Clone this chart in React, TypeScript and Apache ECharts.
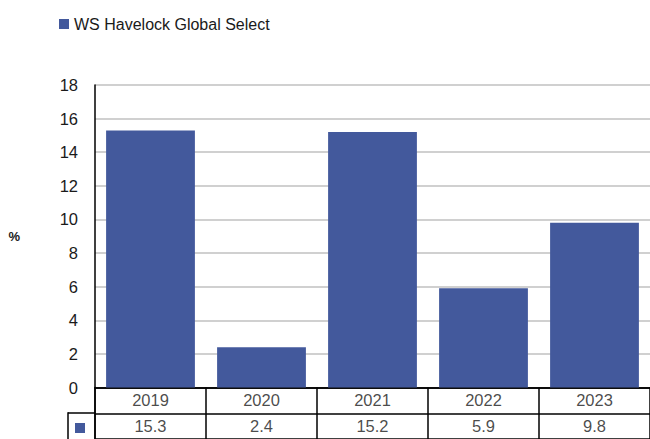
import React, { useEffect, useRef } from 'react';
import * as echarts from 'echarts';

const categories = ['2019', '2020', '2021', '2022', '2023'];
const values = [15.3, 2.4, 15.2, 5.9, 9.8];
const seriesName = 'WS Havelock Global Select';
const yMin = 0;
const yMax = 18;
const yInterval = 2;
const tableRows = ['years', 'values'];

export default function App() {
  const ref = useRef<HTMLDivElement>(null);
  useEffect(() => {
    document.body.style.margin = '0';
    const chart = echarts.init(ref.current!, null, { renderer: 'svg' });
    const barColor = '#43599C';
    const font = '"Liberation Sans", Arial, sans-serif';
    const textColor = '#1a1a1a';
    const tableData: any[] = [];
    categories.forEach((c, i) => {
      tableData.push({ name: c, value: [i, 0] });
      tableData.push({ name: values[i].toFixed(1), value: [i, 1] });
    });
    chart.setOption({
      animation: false,
      legend: {
        data: [{ name: seriesName, icon: 'rect' }],
        left: 59,
        top: 16,
        padding: 0,
        itemWidth: 10,
        itemHeight: 10,
        itemGap: 5,
        textStyle: { fontFamily: font, fontSize: 16, color: textColor },
      },
      grid: [
        { left: 95, right: 0, top: 85, bottom: 51.5 },
        { left: 95, right: 0, top: 387.5, bottom: -1 },
      ],
      xAxis: [
        {
          gridIndex: 0,
          type: 'category',
          data: categories,
          axisLine: { lineStyle: { color: '#000', width: 1.5 } },
          axisTick: { show: false },
          axisLabel: { show: false },
        },
        {
          gridIndex: 1,
          type: 'category',
          data: categories,
          position: 'top',
          axisLine: { show: false },
          axisTick: { show: false },
          axisLabel: { show: false, interval: 0 },
          splitLine: { show: true, interval: 0, lineStyle: { color: '#000', width: 1.5 } },
        },
      ],
      yAxis: [
        {
          gridIndex: 0,
          type: 'value',
          min: yMin,
          max: yMax,
          interval: yInterval,
          name: '%',
          nameLocation: 'middle',
          nameRotate: 0,
          nameGap: 75,
          nameTextStyle: {
            fontFamily: font,
            fontSize: 13,
            fontWeight: 'bold',
            color: textColor,
            padding: [6, 0, 0, 0],
          },
          axisLine: { show: true, lineStyle: { color: '#000', width: 1.5 } },
          axisTick: { show: false },
          axisLabel: { fontFamily: font, fontSize: 16.5, color: textColor, margin: 17 },
          splitLine: { show: true, lineStyle: { color: '#C0C0C0', width: 1.5 } },
        },
        {
          gridIndex: 1,
          type: 'category',
          data: tableRows,
          inverse: true,
          axisLine: { show: true, lineStyle: { color: '#000', width: 1.5 } },
          axisTick: { show: false },
          axisLabel: { show: false, interval: 0 },
          splitLine: { show: true, interval: 0, lineStyle: { color: '#000', width: 1.5 } },
        },
      ],
      series: [
        {
          name: seriesName,
          type: 'bar',
          xAxisIndex: 0,
          yAxisIndex: 0,
          data: values,
          barCategoryGap: '20%',
          itemStyle: { color: barColor },
        },
        {
          type: 'scatter',
          xAxisIndex: 1,
          yAxisIndex: 1,
          data: tableData,
          symbol: 'rect',
          symbolSize: 1,
          silent: true,
          itemStyle: { color: 'rgba(0,0,0,0)' },
          label: {
            show: true,
            position: 'inside',
            formatter: '{b}',
            fontFamily: font,
            fontSize: 16.5,
            color: textColor,
          },
        },
      ],
      graphic: [
        { type: 'line', shape: { x1: 68, y1: 413, x2: 95, y2: 413 }, style: { stroke: '#000', lineWidth: 1.5 } },
        { type: 'line', shape: { x1: 68, y1: 412.25, x2: 68, y2: 440 }, style: { stroke: '#000', lineWidth: 1.5 } },
        { type: 'rect', shape: { x: 75, y: 423, width: 10, height: 10 }, style: { fill: barColor } },
      ],
    });
    return () => chart.dispose();
  }, []);
  return <div ref={ref} style={{ width: 650, height: 439 }} />;
}
